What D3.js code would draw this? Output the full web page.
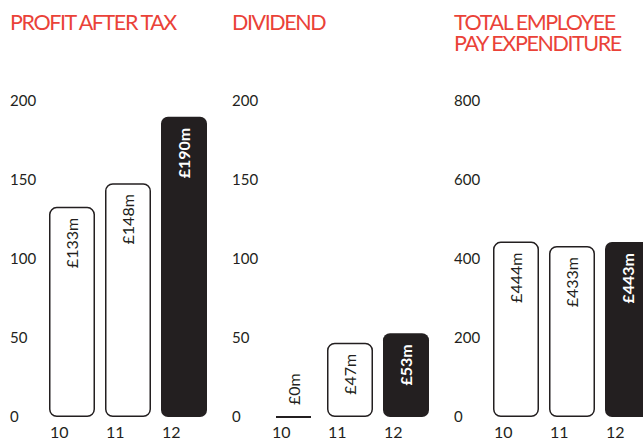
<!DOCTYPE html>
<html lang="en">
<head>
<meta charset="UTF-8">
<title>Results</title>
<style>
  body { margin: 0; background: #fff; }
  svg { display: block; }
  text { font-family: Lato, "Noto Sans", sans-serif; fill: #231f20; }
  .title { fill: #ea4238; font-size: 21.5px; letter-spacing: -1.4px; }
</style>
</head>
<body>
<div id="chart"></div>
<script src="https://d3js.org/d3.v7.min.js"></script>
<script>
// data
var years = ['10', '11', '12']
var profit = [133, 148, 190]
var dividend = [0, 47, 53]
var pay = [444, 433, 443]
var smallTicks = [0, 50, 100, 150, 200]
var payTicks = [0, 200, 400, 600, 800]

var panels = [
  { title: ['PROFIT AFTER TAX'], values: profit, ticks: smallTicks, max: 200 },
  { title: ['DIVIDEND'], values: dividend, ticks: smallTicks, max: 200 },
  { title: ['TOTAL EMPLOYEE', 'PAY EXPENDITURE'], values: pay, ticks: payTicks, max: 800 }
]

function render () {
  var W = 643, H = 441
  var yBase = 417, yTop = 101
  var dark = '#231f20'

  var svg = d3.select('#chart').append('svg')
    .attr('width', W)
    .attr('height', H)

  panels.forEach(function (p, i) {
    var ox = 10 + i * 222
    var g = svg.append('g').attr('transform', 'translate(' + ox + ',0)')

    // title
    p.title.forEach(function (t, j) {
      g.append('text')
        .attr('class', 'title')
        .attr('x', 0)
        .attr('y', 30 + j * 21)
        .text(t)
    })

    var y = d3.scaleLinear().domain([0, p.max]).range([yBase, yTop])
    var x = d3.scaleBand().domain(years)
      .range([39, 39 + 158])
      .paddingInner(10 / 56)
      .paddingOuter(0)

    // y axis labels
    var ya = g.append('g')
      .call(d3.axisLeft(y).tickValues(p.ticks).tickSize(0).tickPadding(0))
    ya.select('.domain').remove()
    ya.selectAll('text')
      .attr('x', 0)
      .attr('text-anchor', 'start')
      .attr('dy', '0.32em')
      .style('font-size', '15px')
      .style('font-family', 'Lato, sans-serif')
      .attr('fill', dark)

    // x axis labels
    var xa = g.append('g')
      .attr('transform', 'translate(0,' + (yBase + 10) + ')')
      .call(d3.axisBottom(x).tickSize(0).tickPadding(0))
    xa.select('.domain').remove()
    xa.selectAll('text')
      .attr('x', -x.bandwidth() / 2 + 1)
      .attr('text-anchor', 'start')
      .attr('dy', '0.71em')
      .style('font-size', '16px')
      .style('font-family', 'Lato, sans-serif')
      .attr('fill', dark)

    // bars
    p.values.forEach(function (v, k) {
      var yr = years[k]
      var last = k === years.length - 1
      var bx = x(yr), bw = x.bandwidth()
      if (v === 0) {
        g.append('line')
          .attr('x1', bx + 5)
          .attr('x2', bx + bw - 6)
          .attr('y1', yBase)
          .attr('y2', yBase)
          .style('stroke', dark)
          .style('stroke-width', 2)
      } else {
        var inset = last ? 0 : 0.75
        g.append('rect')
          .attr('x', bx + inset)
          .attr('y', y(v) + inset)
          .attr('width', bw - 2 * inset)
          .attr('height', yBase - y(v) - 2 * inset)
          .attr('rx', 7)
          .style('fill', last ? dark : '#fff')
          .style('stroke', dark)
          .style('stroke-width', last ? 0 : 1.5)
      }
      // value label, reads bottom to top
      var cx = bx + bw / 2
      var ty = v === 0 ? yBase - 12 : y(v) + 11
      g.append('text')
        .attr('transform', 'translate(' + cx + ',' + ty + ') rotate(-90)')
        .attr('text-anchor', v === 0 ? 'start' : 'end')
        .attr('dy', '0.35em')
        .style('font-size', '16px')
        .style('font-weight', last ? 'bold' : 'normal')
        .style('fill', last ? '#fff' : dark)
        .text('£' + v + 'm')
    })
  })
}
render()
</script>
</body>
</html>
